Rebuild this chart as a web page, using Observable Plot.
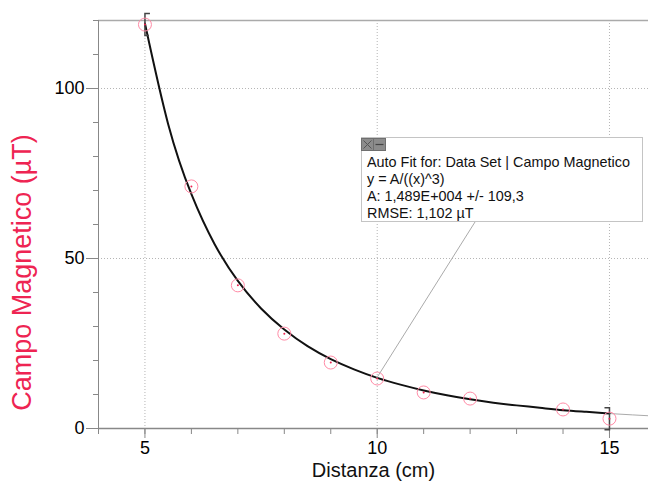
<!DOCTYPE html>
<html><head><meta charset="utf-8">
<script src="https://cdn.jsdelivr.net/npm/d3@7"></script>
<script src="https://cdn.jsdelivr.net/npm/@observablehq/plot@0.6"></script>
<style>
body{margin:0;background:#fff;}
#wrap{position:relative;width:648px;height:489px;overflow:hidden;}
#lead{position:absolute;left:0;top:0;}
.box{position:absolute;left:361px;top:137px;width:282px;height:85px;border:1px solid #c4c4c4;background:#fff;font-family:"Liberation Sans",Arial,sans-serif;font-size:14.4px;line-height:17px;color:#111;box-sizing:border-box;padding:15.5px 0 0 5px;white-space:nowrap;}
.icons{position:absolute;left:-1px;top:0px;}
</style></head><body><div id="wrap"></div>
<script>
// measured data
const distanza = [5, 6, 7, 8, 9, 10, 11, 12, 14, 15];
const campo = [118.8, 71.2, 42.1, 27.9, 19.4, 14.7, 10.6, 8.8, 5.6, 2.9];
// fitted curve y = A/x^3
const fitX = [5, 5.5, 6, 6.5, 7, 7.5, 8, 8.5, 9, 9.5, 10, 10.5, 11, 11.5, 12, 12.5, 13, 13.5, 14, 14.5, 15];
const fitY = [119.1, 89.5, 68.9, 54.2, 43.4, 35.3, 29.1, 24.2, 20.4, 17.4, 14.9, 12.9, 11.2, 9.8, 8.6, 7.6, 6.8, 6.1, 5.4, 4.9, 4.4];
// extension of the fit beyond the fitted range (grey)
const extX = [15, 15.5, 15.84];
const extY = [4.4, 4.0, 3.75];
const xMajor = [5, 10, 15];
const yMajor = [0, 50, 100];
const fitLines = ["Auto Fit for: Data Set | Campo Magnetico", "y = A/((x)^3)", "A: 1,489E+004 +/- 109,3", "RMSE: 1,102 µT"];
const fitRangeIdx = [0, distanza.length - 1];

const points = distanza.map((d, i) => ({x: d, y: campo[i]}));
const fit = fitX.map((d, i) => ({x: d, y: fitY[i]}));
const ext = extX.map((d, i) => ({x: d, y: extY[i]}));

const leftBracket = {draw(ctx) { ctx.moveTo(5, -11); ctx.lineTo(0, -11); ctx.lineTo(0, 11); ctx.lineTo(4, 11); }};
const rightBracket = {draw(ctx) { ctx.moveTo(-5, -11); ctx.lineTo(0, -11); ctx.lineTo(0, 11); ctx.lineTo(-5, 11); }};

const red = "#ee2452";
const chart = Plot.plot({
  width: 648, height: 489,
  marginLeft: 98, marginRight: 0, marginTop: 20, marginBottom: 61,
  x: {domain: [4, 15.84], label: null},
  y: {domain: [0, 120], label: null},
  style: {fontFamily: "'Liberation Sans', Arial, sans-serif", fontSize: "18px", color: "black", background: "white", overflow: "visible"},
  marks: [
    Plot.ruleY([50, 100], {stroke: "#b5b5b5", strokeDasharray: "1,2"}),
    Plot.ruleX(xMajor, {stroke: "#b5b5b5", strokeDasharray: "1,2"}),
    Plot.ruleY([120], {stroke: "#aaa", strokeWidth: 1.5}),
    Plot.axisY(d3.range(0, 121, 10), {tickSize: 5, text: null, stroke: "#888", label: null}),
    Plot.axisY(yMajor, {tickSize: 12, tickPadding: 2, stroke: "#888", fontSize: 18, label: null}),
    Plot.axisX(d3.range(4, 16, 1), {tickSize: 6, text: null, stroke: "#888", label: null}),
    Plot.axisX(xMajor, {tickSize: 10, tickPadding: 3, stroke: "#888", fontSize: 18, label: null}),
    Plot.ruleX([4], {stroke: "#888", insetBottom: -5}),
    Plot.ruleY([0], {stroke: "#888", strokeWidth: 1.3}),
    Plot.line(ext, {x: "x", y: "y", stroke: "#aaa", strokeWidth: 1}),
    Plot.line(fit, {x: "x", y: "y", stroke: "#111", strokeWidth: 2, curve: "natural"}),
    Plot.dot([points[fitRangeIdx[0]]], {x: "x", y: "y", symbol: leftBracket, r: 4, stroke: "#444", fill: "none", strokeWidth: 1.5}),
    Plot.dot([points[fitRangeIdx[1]]], {x: "x", y: "y", symbol: rightBracket, r: 4, stroke: "#444", fill: "none", strokeWidth: 1.5}),
    Plot.dot(points, {x: "x", y: "y", r: 6.5, stroke: "#ff8ba6", strokeWidth: 1, fill: "none"}),
    Plot.dot(points, {x: "x", y: "y", r: 1, fill: red, stroke: "none"}),
    Plot.text(["Distanza (cm)"], {frameAnchor: "bottom", dy: 48, fontSize: 20, fill: "#111"}),
    Plot.text(["Campo Magnetico (µT)"], {frameAnchor: "left", textAnchor: "middle", rotate: -90, dx: -76, dy: 48, fontSize: 27, fill: red})
  ]
});

const wrap = document.getElementById("wrap");
wrap.appendChild(chart);

// leader line from annotation box to the data point at x = 10
const sx = chart.scale("x"), sy = chart.scale("y");
const target = points[distanza.indexOf(10)];
const lead = d3.select(wrap).append("svg").attr("id", "lead").attr("width", 648).attr("height", 489);
lead.append("line")
  .attr("x1", 475).attr("y1", 222)
  .attr("x2", sx.apply(target.x)).attr("y2", sy.apply(target.y))
  .attr("stroke", "#aaa").attr("stroke-width", 1);

const box = document.createElement("div");
box.className = "box";
box.innerHTML = `<svg class="icons" width="26" height="13">
  <rect x="0.5" y="0.5" width="12" height="12" fill="#8c8c8c" stroke="#6f6f6f"/>
  <path d="M2.5 2.5 L10.5 10.5 M10.5 2.5 L2.5 10.5" stroke="#555" stroke-width="1"/>
  <rect x="12.5" y="0.5" width="12" height="12" fill="#8c8c8c" stroke="#6f6f6f"/>
  <path d="M14.5 6.5 L22.5 6.5" stroke="#444" stroke-width="1.2"/>
</svg>` + fitLines.map(t => `<div>${t}</div>`).join("");
wrap.appendChild(box);
</script>
</body></html>
